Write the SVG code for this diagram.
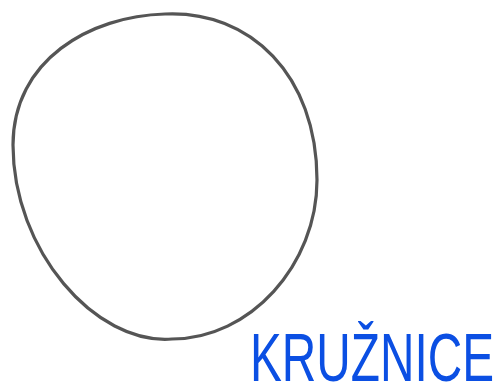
<svg xmlns="http://www.w3.org/2000/svg" width="502" height="390" viewBox="0 0 502 390">
<style>
.shape{fill:none;stroke:#555555;stroke-width:3.2;stroke-linecap:round;stroke-linejoin:round}
.lbl{font-family:"Liberation Sans","DejaVu Sans",sans-serif;font-size:68px;fill:#0b4fe3}
</style>
<rect width="502" height="390" fill="#ffffff"/>
<g id="circle">
<path class="shape" d="M165,14 C250,10 317,75 317,180 C317,265 250,339 172,339 C95,345 13,250 13,145 C13,60 90,16 165,14 Z"/>
</g>
<g id="label">
<text class="lbl" x="250" y="381" textLength="244" lengthAdjust="spacingAndGlyphs">KRUŽNICE</text>
</g>
</svg>
